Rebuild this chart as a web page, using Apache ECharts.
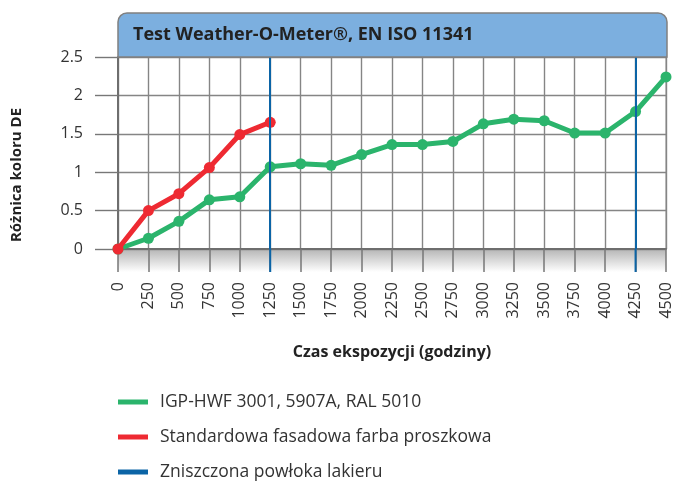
<!DOCTYPE html>
<html>
<head>
<meta charset="utf-8">
<script src="https://cdn.jsdelivr.net/npm/echarts@6/dist/echarts.min.js"></script>
<style>
  html, body { margin: 0; padding: 0; background: #fff; }
  #chart { width: 678px; height: 482px; }
</style>
</head>
<body>
<div id="chart"></div>
<script>
// czas ekspozycji (godziny) co 250
var hours = [0, 250, 500, 750, 1000, 1250, 1500, 1750, 2000, 2250, 2500, 2750, 3000, 3250, 3500, 3750, 4000, 4250, 4500];
// IGP-HWF 3001
var greenDE = [0, 0.14, 0.36, 0.64, 0.68, 1.07, 1.11, 1.09, 1.23, 1.36, 1.36, 1.40, 1.63, 1.69, 1.67, 1.51, 1.51, 1.79, 2.24];
// standardowa farba
var redHours = [0, 250, 500, 750, 1000, 1250];
var redDE = [0, 0.50, 0.72, 1.06, 1.49, 1.65];
// zniszczona powloka
var damageHours = [1250, 4250];

var fontFam = '"Open Sans", sans-serif';
var gridCol = '#858585';

var chart = echarts.init(document.getElementById('chart'));

var option = {
  animation: false,
  textStyle: { fontFamily: fontFam },
  grid: { left: 118, right: 12, top: 57, bottom: 233, show: true, borderColor: '#888', borderWidth: 1 },
  xAxis: {
    type: 'value', min: 0, max: 4500, interval: 250,
    axisLine: { lineStyle: { color: '#6e6e6e', width: 2 } },
    axisTick: { show: true, length: 23, lineStyle: { color: '#777', width: 1.5 } },
    axisLabel: { rotate: 90, margin: 33, fontSize: 16, color: '#333', fontFamily: fontFam,
      formatter: function (v) { return String(v); } },
    splitLine: { show: true, lineStyle: { color: gridCol, width: 1.4 } }
  },
  yAxis: {
    type: 'value', min: 0, max: 2.5, interval: 0.5,
    axisLine: { show: true, lineStyle: { color: '#6e6e6e', width: 2 } },
    axisTick: { show: true, length: 23, lineStyle: { color: '#777', width: 1.4 } },
    axisLabel: { margin: 35, fontSize: 16, color: '#333', fontFamily: fontFam },
    splitLine: { show: true, lineStyle: { color: gridCol, width: 1.4 } }
  },
  legend: {
    orient: 'vertical', left: 118, top: 392, padding: 0, itemWidth: 30, itemHeight: 5, itemGap: 15,
    icon: 'rect',
    textStyle: { fontSize: 17.5, lineHeight: 20, color: '#333', fontFamily: fontFam, padding: [0, 0, 0, 7] },
    data: ['IGP-HWF 3001, 5907A, RAL 5010', 'Standardowa fasadowa farba proszkowa', 'Zniszczona powłoka lakieru']
  },
  series: [
    {
      name: 'Zniszczona powłoka lakieru', type: 'line', data: [],
      color: '#0b64a6',
      markLine: {
        symbol: 'none', silent: true, label: { show: false },
        lineStyle: { color: '#0b64a6', width: 2, type: 'solid' },
        data: damageHours.map(function (h) { return { xAxis: h }; })
      }
    },
    {
      name: 'IGP-HWF 3001, 5907A, RAL 5010', type: 'line', color: '#2bb46c',
      data: hours.map(function (h, i) { return [h, greenDE[i]]; }),
      symbol: 'circle', symbolSize: 11, lineStyle: { width: 5 }, z: 3
    },
    {
      name: 'Standardowa fasadowa farba proszkowa', type: 'line', color: '#ee2a32',
      data: redHours.map(function (h, i) { return [h, redDE[i]]; }),
      symbol: 'circle', symbolSize: 11, lineStyle: { width: 5 }, z: 4
    }
  ]
};
chart.setOption(option);

// dekoracje: pasek pod osia, naglowek, niebieskie linie w pasku
var p0 = chart.convertToPixel({ gridIndex: 0 }, [0, 0]);
var p1 = chart.convertToPixel({ gridIndex: 0 }, [4500, 2.5]);
var bandH = 23;
var els = [
  {
    type: 'rect', z: -10, silent: true,
    shape: { x: p0[0], y: p0[1], width: p1[0] - p0[0], height: bandH },
    style: {
      fill: new echarts.graphic.LinearGradient(0, 0, 0, 1, [
        { offset: 0, color: '#b5b5b5' }, { offset: 1, color: '#ffffff' }
      ])
    }
  },
  {
    type: 'rect', z: 10, silent: true,
    shape: { x: p0[0], y: 13, width: p1[0] - p0[0] + 1, height: p1[1] - 13, r: [9, 9, 0, 0] },
    style: { fill: '#7cafdf', stroke: '#808080', lineWidth: 1.5 }
  },
  {
    type: 'text', z: 11, silent: true, x: 133, y: 35,
    style: { text: 'Test Weather-O-Meter®, EN ISO 11341', font: 'bold 18px ' + fontFam, fill: '#222', verticalAlign: 'middle' }
  },
  {
    type: 'text', silent: true, x: 17, y: 175, rotation: Math.PI / 2,
    style: { text: 'Różnica koloru DE', font: 'bold 15px ' + fontFam, fill: '#222', align: 'center', verticalAlign: 'middle' }
  },
  {
    type: 'text', silent: true, x: (p0[0] + p1[0]) / 2, y: 352,
    style: { text: 'Czas ekspozycji (godziny)', font: 'bold 16px ' + fontFam, fill: '#222', align: 'center', verticalAlign: 'middle' }
  }
];
damageHours.forEach(function (h) {
  var px = chart.convertToPixel({ gridIndex: 0 }, [h, 0]);
  els.push({
    type: 'line', z: 5, silent: true,
    shape: { x1: px[0], y1: px[1], x2: px[0], y2: px[1] + bandH },
    style: { stroke: '#0b64a6', lineWidth: 2 }
  });
});
chart.setOption({ graphic: els });
</script>
</body>
</html>
